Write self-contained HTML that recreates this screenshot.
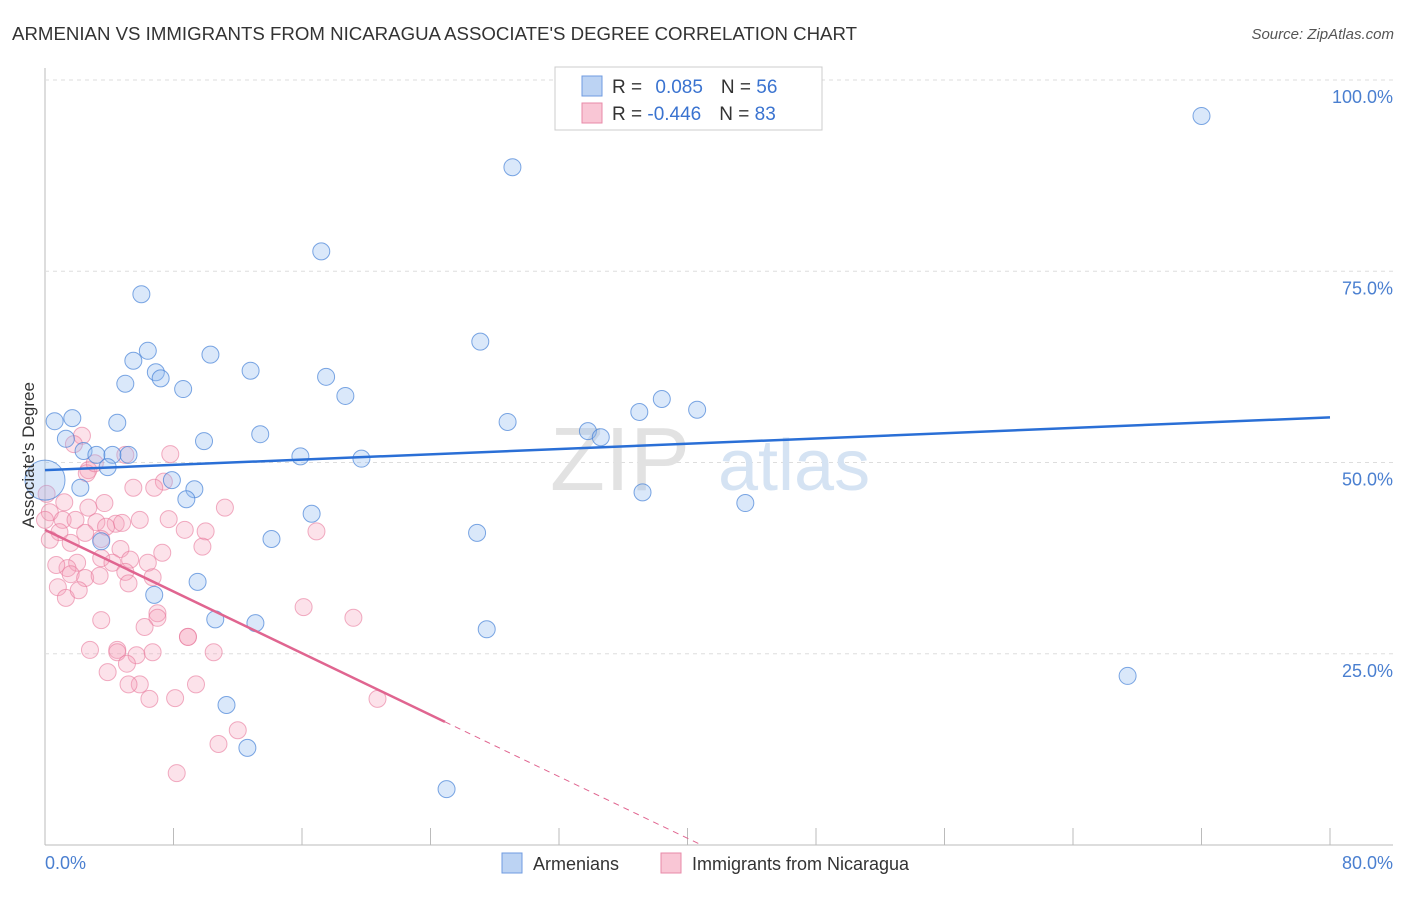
<!DOCTYPE html>
<html><head><meta charset="utf-8"><style>
body{margin:0;background:#fff;font-family:"Liberation Sans",sans-serif;}
svg text{font-family:"Liberation Sans",sans-serif;}
</style></head><body>
<svg width="1406" height="892" xmlns="http://www.w3.org/2000/svg">
<text x="12" y="40" font-size="18" fill="#333" textLength="845" lengthAdjust="spacingAndGlyphs">ARMENIAN VS IMMIGRANTS FROM NICARAGUA ASSOCIATE'S DEGREE CORRELATION CHART</text>
<text x="1394" y="39" font-size="15" fill="#555" font-style="italic" text-anchor="end">Source: ZipAtlas.com</text>
<g id="grid"></g>
<text x="690" y="490" font-size="90" fill="#e2e2e2" font-family="Liberation Serif" text-anchor="end">ZIP</text>
<text x="718" y="490" font-size="72" fill="#d5e3f3">atlas</text>
<g id="pts"></g>
<g id="trend"></g>
<text transform="translate(34,455) rotate(-90)" font-size="17" fill="#333" text-anchor="middle">Associate's Degree</text>
<text x="45" y="869" font-size="18" fill="#4a7fd0">0.0%</text>
<text x="1393" y="869" font-size="18" fill="#4a7fd0" text-anchor="end">80.0%</text>
<g>
<rect x="555" y="67" width="267" height="63" fill="#fff" stroke="#ccc"/>
<rect x="582" y="76" width="20" height="20" fill="#bcd3f3" stroke="#6f9be0"/>
<rect x="582" y="103" width="20" height="20" fill="#f9c6d5" stroke="#e88aa8"/>
<text x="612" y="93" font-size="19" fill="#333">R = <tspan fill="#3a73d0" dx="8">0.085</tspan><tspan dx="18">N = </tspan><tspan fill="#3a73d0">56</tspan></text>
<text x="612" y="120" font-size="19" fill="#333">R = <tspan fill="#3a73d0">-0.446</tspan><tspan dx="18">N = </tspan><tspan fill="#3a73d0">83</tspan></text>
</g>
<g>
<rect x="502" y="853" width="20" height="20" fill="#bcd3f3" stroke="#6f9be0"/>
<text x="533" y="870" font-size="18" fill="#333">Armenians</text>
<rect x="661" y="853" width="20" height="20" fill="#f9c6d5" stroke="#e88aa8"/>
<text x="692" y="870" font-size="18" fill="#333">Immigrants from Nicaragua</text>
</g>
</svg>
<script>
const yTicks=[25,50,75,100];
const yTickLabels=["25.0%","50.0%","75.0%","100.0%"];
const xTicks=[0,8,16,24,32,40,48,56,64,72,80];
const blueX=[72.0,29.1,17.2,6.0,27.1,6.4,5.5,10.3,6.9,12.8,7.2,17.5,5.0,8.6,18.7,0.6,1.7,4.5,28.8,37.0,38.4,40.6,33.8,34.6,1.3,9.9,13.4,2.4,3.2,4.2,5.2,15.9,19.7,3.9,7.9,2.2,9.3,8.8,37.2,43.6,0,16.6,14.1,26.9,3.5,9.5,6.8,10.6,13.1,27.5,67.4,11.3,12.6,25.0];
const blueY=[95.3,88.6,77.6,72.0,65.8,64.6,63.3,64.1,61.8,62.0,61.0,61.2,60.3,59.6,58.7,55.4,55.8,55.2,55.3,56.6,58.3,56.9,54.1,53.3,53.1,52.8,53.7,51.5,51.0,51.0,51.0,50.8,50.5,49.4,47.7,46.7,46.5,45.2,46.1,44.7,47.7,43.3,40.0,40.8,39.7,34.4,32.7,29.5,29.0,28.2,22.1,18.3,12.7,7.3];
const pinkX=[2.3,1.8,2.7,2.6,3.1,5.0,7.8,7.4,5.5,3.7,1.2,2.7,0.1,0.3,0,1.1,1.9,3.2,4.4,3.8,4.8,2.5,0.9,1.6,3.5,0.3,6.8,7.7,5.9,10.0,8.7,9.8,4.7,3.5,4.2,5.3,6.4,2.0,1.4,0.7,1.6,2.5,3.4,0.8,1.3,2.1,5.0,5.2,6.7,7.3,3.5,2.8,4.5,4.5,5.7,6.7,5.1,3.9,5.9,5.2,6.5,8.1,9.4,8.9,7.0,7.0,6.2,10.5,10.8,12.0,8.2,16.1,19.2,20.7,16.9,11.2,8.9];
const pinkY=[53.5,52.4,49.0,48.6,49.9,51.0,51.1,47.5,46.7,44.7,44.8,44.1,45.9,43.5,42.5,42.5,42.5,42.2,42.0,41.6,42.1,40.8,40.9,39.5,40.0,39.9,46.7,42.6,42.5,41.0,41.2,39.0,38.7,37.5,36.9,37.3,36.9,36.9,36.2,36.6,35.4,34.9,35.2,33.7,32.3,33.3,35.7,34.2,35.0,38.2,29.4,25.5,25.5,25.2,24.8,25.2,23.7,22.6,21.0,21.0,19.1,19.2,21.0,27.2,30.3,29.7,28.5,25.2,13.2,15.0,9.4,31.1,29.7,19.1,41.0,44.1,27.2];
const blueTrend=[49.0,55.9];
const pinkTrend=[41.2,-1.008];
const NS="http://www.w3.org/2000/svg";
const X=v=>45+v*(1330-45)/80;
const Y=v=>845-v*(845-80)/100;
function mk(t,a,p){const e=document.createElementNS(NS,t);for(const k in a)e.setAttribute(k,a[k]);document.getElementById(p).appendChild(e);return e;}
let e=mk('line',{x1:45,y1:68,x2:45,y2:845,stroke:'#bbb'},'grid');


e=mk('line',{x1:45,y1:845,x2:1393,y2:845,stroke:'#bbb'},'grid');


yTicks.forEach((t,i)=>{
 let l=mk('line',{x1:45,y1:Y(t),x2:1393,y2:Y(t),stroke:'#ddd','stroke-dasharray':'4,4'},'grid');
 
 
 let tx=mk('text',{x:1393,y:Y(t)+23,'font-size':18,fill:'#4a7fd0','text-anchor':'end'},'grid');
 tx.textContent=yTickLabels[i];
 
 
});
xTicks.forEach(t=>{
 let l=mk('line',{x1:X(t),y1:828,x2:X(t),y2:845,stroke:'#bbb'},'grid');
 
 
});
pinkX.forEach((v,i)=>{
 let c=mk('circle',{cx:X(v),cy:Y(pinkY[i]),r:8.5,fill:'rgba(244,160,185,0.3)',stroke:'rgba(232,120,155,0.6)','stroke-width':1},'pts');
 
 
});
blueX.forEach((v,i)=>{
 let r=(v===0)?20:8.5;
 let c=mk('circle',{cx:X(v),cy:Y(blueY[i]),r:r,fill:'rgba(150,190,240,0.35)',stroke:'rgba(70,130,215,0.7)','stroke-width':1},'pts');
 
 
});
e=mk('line',{x1:X(0),y1:Y(blueTrend[0]),x2:X(80),y2:Y(blueTrend[1]),stroke:'#2a6fd6','stroke-width':2.5},'trend');


const pe=24.9, pz=-pinkTrend[0]/pinkTrend[1];
e=mk('line',{x1:X(0),y1:Y(pinkTrend[0]),x2:X(pe),y2:Y(pinkTrend[0]+pinkTrend[1]*pe),stroke:'#e06590','stroke-width':2.5},'trend');


e=mk('line',{x1:X(pe),y1:Y(pinkTrend[0]+pinkTrend[1]*pe),x2:X(pz),y2:Y(0),stroke:'#e06590','stroke-width':1,'stroke-dasharray':'6,5'},'trend');


</script>
</body></html>
